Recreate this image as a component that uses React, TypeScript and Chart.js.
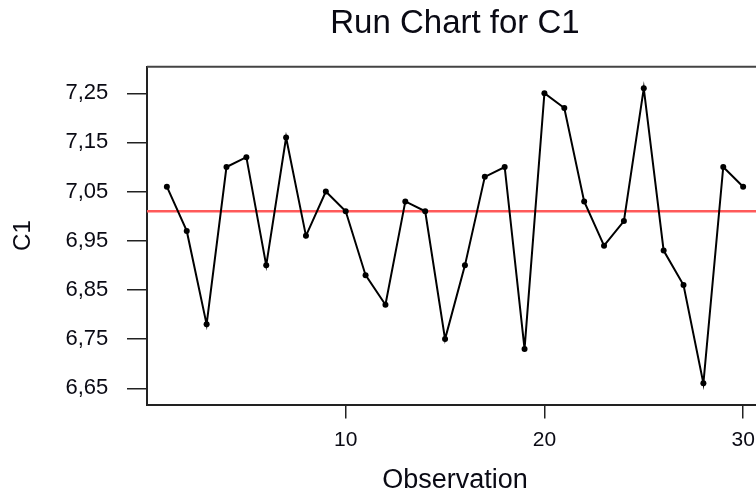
import React, { useEffect, useRef } from "react";
import { Chart, registerables } from "chart.js";

Chart.register(...registerables);

const observations = [1, 2, 3, 4, 5, 6, 7, 8, 9, 10, 11, 12, 13, 14, 15, 16, 17, 18, 19, 20, 21, 22, 23, 24, 25, 26, 27, 28, 29, 30];
const c1Values = [7.06, 6.97, 6.78, 7.10, 7.12, 6.90, 7.16, 6.96, 7.05, 7.01, 6.88, 6.82, 7.03, 7.01, 6.75, 6.90, 7.08, 7.10, 6.73, 7.25, 7.22, 7.03, 6.94, 6.99, 7.26, 6.93, 6.86, 6.66, 7.10, 7.06];
const yTickValues = [6.65, 6.75, 6.85, 6.95, 7.05, 7.15, 7.25];
const yTickLabels = ["6,65", "6,75", "6,85", "6,95", "7,05", "7,15", "7,25"];
const xTickValues = [10, 20, 30];
const xTickLabels = ["10", "20", "30"];
const xRange = [0, 31];
const yRange = [6.617, 7.304];

const titleText = "Run Chart for C1";
const xTitle = "Observation";
const yTitle = "C1";

function median(values: number[]): number {
  const s = [...values].sort((a, b) => a - b);
  const m = Math.floor(s.length / 2);
  return s.length % 2 ? s[m] : (s[m - 1] + s[m]) / 2;
}

const FONT = "'Liberation Sans', Arial, sans-serif";
const TEXT = "#0a0a14";

const topBorderPlugin = {
  id: "topBorder",
  afterDraw(chart: any) {
    const { ctx, chartArea } = chart;
    ctx.save();
    ctx.strokeStyle = "#444";
    ctx.lineWidth = 2;
    ctx.beginPath();
    ctx.moveTo(chartArea.left, chartArea.top);
    ctx.lineTo(chartArea.right, chartArea.top);
    ctx.stroke();
    ctx.restore();
  },
};

export default function App() {
  const ref = useRef<HTMLCanvasElement | null>(null);

  useEffect(() => {
    if (!ref.current) return;
    const med = median(c1Values);
    const chart = new Chart(ref.current, {
      type: "line",
      data: {
        datasets: [
          {
            label: "C1",
            data: observations.map((o, i) => ({ x: o, y: c1Values[i] })),
            borderColor: "#000",
            backgroundColor: "#000",
            borderWidth: 2,
            pointRadius: 3,
            pointBackgroundColor: "#000",
            pointBorderWidth: 0,
            tension: 0,
            order: 1,
          },
          {
            label: "Median",
            data: [
              { x: xRange[0], y: med },
              { x: xRange[1], y: med },
            ],
            borderColor: "#ff5a5a",
            borderWidth: 2.5,
            pointRadius: 0,
            order: 2,
          },
        ],
      },
      options: {
        animation: false,
        responsive: false,
        devicePixelRatio: 1,
        layout: { padding: { left: 0, right: 9, top: 0, bottom: 0 } },
        plugins: {
          legend: { display: false },
          tooltip: { enabled: false },
          title: {
            display: true,
            text: titleText,
            fullSize: false,
            color: TEXT,
            font: { family: FONT, size: 33, weight: "normal" },
            padding: { top: 3.8, bottom: 23.3 },
          },
        },
        scales: {
          x: {
            type: "linear",
            min: xRange[0],
            max: xRange[1],
            afterFit: (scale: any) => {
              scale.height = 96.5;
            },
            afterBuildTicks: (scale: any) => {
              scale.ticks = xTickValues.map((v) => ({ value: v }));
            },
            ticks: {
              color: TEXT,
              font: { family: FONT, size: 21 },
              padding: 9.4,
              maxRotation: 0,
              autoSkip: false,
              callback: (_v: any, i: number) => xTickLabels[i],
            },
            grid: {
              display: true,
              drawOnChartArea: false,
              drawTicks: true,
              tickLength: 14,
              color: "#222",
              lineWidth: 1.5,
            },
            border: { display: true, color: "#222", width: 2 },
            title: {
              display: true,
              text: xTitle,
              color: TEXT,
              font: { family: FONT, size: 27 },
              padding: { top: 0, bottom: 4 },
            },
          },
          y: {
            type: "linear",
            min: yRange[0],
            max: yRange[1],
            afterFit: (scale: any) => {
              scale.width = 147;
            },
            afterBuildTicks: (scale: any) => {
              scale.ticks = yTickValues.map((v) => ({ value: v }));
            },
            ticks: {
              color: TEXT,
              font: { family: FONT, size: 22 },
              padding: 18.7,
              autoSkip: false,
              callback: (_v: any, i: number) => yTickLabels[i],
            },
            grid: {
              display: true,
              drawOnChartArea: false,
              drawTicks: true,
              tickLength: 20,
              color: "#222",
              lineWidth: 1.5,
            },
            border: { display: true, color: "#222", width: 2 },
            title: {
              display: true,
              text: yTitle,
              color: TEXT,
              font: { family: FONT, size: 24 },
              padding: { top: 9, bottom: 0 },
            },
          },
        },
      },
      plugins: [topBorderPlugin],
    });
    return () => chart.destroy();
  }, []);

  return (
    <div
      style={{
        position: "fixed",
        left: 0,
        top: 0,
        width: 756,
        height: 501,
        overflow: "hidden",
        background: "#fff",
      }}
    >
      <canvas ref={ref} width={772} height={501} style={{ display: "block", width: 772, height: 501 }} />
    </div>
  );
}
